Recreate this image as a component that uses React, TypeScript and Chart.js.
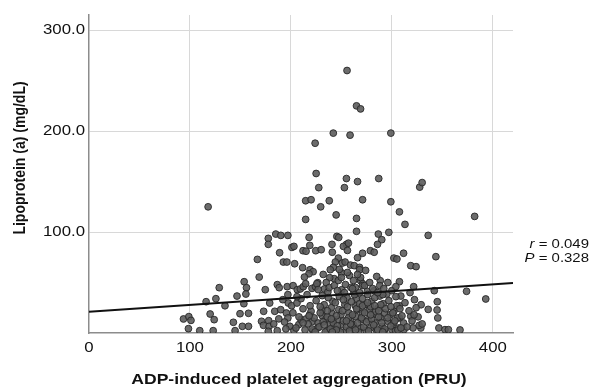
import React, { useEffect, useRef } from "react";
import { Chart, registerables } from "chart.js";

Chart.register(...registerables);

// Scatter data: [PRU, Lp(a) mg/dL]
const pruValues: number[] = [
  255.6, 265, 269, 242, 258.6, 299, 224, 225, 227.6, 255, 253, 266, 287, 327.6, 330,
  214.6, 220, 238, 271, 299, 229.5, 118, 307.5, 244.8, 313, 214.6, 265, 382, 265, 297, 286.6,
  185, 190, 197, 177.6, 177.6, 218, 245.5, 247.4, 336, 290, 285.8, 255, 252, 257, 240.7, 218.7,
  201, 203, 212, 215, 224.6, 230, 188.8, 241, 256, 271, 278.7, 282.5, 311.6, 343.6, 166.8, 266,
  247, 244, 251, 253.7, 302, 305, 192.5, 196, 203.7, 259, 262.7, 268, 268, 242, 239, 318.7, 324,
  211.6, 219, 222, 217.9, 250, 242.9, 238.4, 168.6, 153.7, 213.4, 226.6, 269, 271, 288.5, 307.5,
  156, 129, 155.4, 146.6, 125.7, 116, 134.7, 153.4, 174.6, 186.5, 188.4, 196.3, 202.2, 206.3, 209.3,
  212.3, 214.6, 220.9, 224.3, 225.7, 233.2, 236.6, 250.4, 259.3, 262.3, 270.9, 275.7, 282.5, 288,
  295, 308.9, 321.6, 342, 374, 393, 322.4, 329, 336, 345, 344.8, 345.5, 346.6, 352.6, 356, 367.5,
  328.7, 327, 321, 318.7, 307.5, 305, 302, 307.5, 311.6, 312,
  93.6, 98.9, 101, 98.5, 109.7, 120, 124, 123, 143, 144.7, 149.6, 158, 151.9, 158, 173, 179, 170.9,
  178, 172.8, 178.4, 177.6, 186.5, 184, 189.9, 195.5, 197, 193.7, 197.4, 200.7, 206, 199, 203, 207.8,
  210, 215, 218.6, 220, 221.6, 222, 226.5, 226.9, 231, 231, 234.7, 235.8, 238.8, 241.4, 240.3, 241.8,
  243.7, 247, 246.3, 247.4, 249.6, 250.7, 254.5, 253.4, 255.6, 257.5, 259.3, 260.8, 263.8, 264, 264.9,
  266.4, 269.4, 269.4, 270.9, 273, 274.6, 276.5, 277.6, 278.7, 279.9, 281.3, 283.2, 285, 286.5, 288.8,
  290.3, 291.4, 292.9, 292.5, 295.9, 298.5, 300, 301.5, 303.7, 305.6, 306.7,
  205, 208, 212, 214, 217, 219, 223, 225, 228, 229, 232, 233, 234, 236, 237, 239, 240, 242, 244, 245,
  246, 248, 249, 251, 252, 253, 255, 256, 257, 258, 260, 261, 262, 263, 265, 266, 267, 268, 270, 271,
  272, 273, 275, 276, 277, 279, 280, 282, 283, 284, 286, 287, 289, 290, 291, 293, 294, 296, 297, 299,
  301, 303, 304, 306, 308, 310, 313, 315, 317, 320, 324, 326, 330,
  210, 216, 221, 227, 231, 235, 238, 243, 247, 250, 254, 258, 262, 264, 269, 273, 278, 281, 285, 288,
  292, 296, 300, 304, 232, 248, 256, 266, 274, 286, 245, 259, 271, 240, 252, 283, 264, 279, 291, 233,
  246, 261, 197, 192, 188, 183, 195, 202, 206, 212, 218, 224, 229, 236, 241, 255, 268, 276, 287, 299,
  309, 318, 322,
];

const lpaValues: number[] = [
  260, 225, 222, 198, 196, 198, 188, 158, 144, 153, 144, 150, 153, 144.5, 149,
  131, 132, 131, 132, 130, 125, 125, 120, 117, 107.6, 112.5, 113.5, 115.5, 100.7, 99.7, 98,
  98, 96.7, 96.7, 93.7, 87.8, 94.7, 95.7, 94.7, 96.7, 92.4, 87.8, 87.8, 85.8, 89, 87.8, 86.8,
  84.8, 85.8, 81.5, 81, 81.5, 82.5, 79.5, 80, 81.8, 79, 81.5, 80, 79, 75.6, 72.9, 74.6,
  74.2, 70.3, 69.3, 70.3, 74.2, 73.3, 70.3, 70.3, 68.6, 67.3, 66.7, 65, 62.7, 65, 62.7, 66.7, 65.7,
  64.7, 62.7, 60.7, 58.7, 59.7, 53.8, 54.8, 55.4, 50.8, 55.4, 49.8, 51.8, 48.8, 51.8, 50.8,
  44.9, 44.9, 38.6, 36.6, 34, 31, 27, 29, 42.9, 47.9, 44.9, 45.9, 46.9, 42.9, 43.6,
  45.9, 48.8, 44.2, 45.9, 48.8, 43.6, 40.6, 42.9, 45.2, 40.3, 46.9, 41.3, 41.9, 36.6,
  38.6, 36.6, 45.9, 41.9, 41.3, 33.7, 33, 28, 23.4, 31, 22.8, 14.9, 5, 3.3, 3.3, 3,
  5, 7.6, 5, 16.5, 27, 27, 21.5, 14.9, 9.9, 3.3,
  13.9, 16.2, 12.5, 4.3, 2.3, 18.8, 13.2, 2.3, 10.6, 2.3, 19.1, 19.5, 6.6, 6.6, 21.5, 29.7, 11.6,
  12.2, 7.6, 6.6, 1.7, 2.3, 21.5, 23.1, 19.8, 14.9, 10.9, 29.7, 27, 29.7, 6.6, 2.3, 8.3,
  13.2, 13.9, 18.2, 21.5, 11.6, 2.3, 5, 9.9, 17.2, 23.1, 13.9, 2.3, 8.3, 31.4, 19.8, 13.2,
  5, 2.3, 13.2, 23.1, 18.2, 8.3, 2.3, 28, 34.7, 19.8, 11.6, 5, 27, 16.5, 33.7,
  23.1, 13.2, 5, 19.8, 28, 2.3, 13.2, 23.1, 5, 31.4, 18.2, 9.9, 2.3, 24.8, 14.9,
  6.6, 29, 19.8, 2.3, 11.6, 18.2, 3.3, 9.9, 2.3, 14.9, 5,
  5, 16, 24, 3, 9, 27, 15, 32, 6, 20, 11, 28, 1, 16, 35, 4, 25, 10, 30, 17,
  7, 36, 1, 22, 12, 40, 6, 26, 15, 2, 31, 18, 8, 38, 24, 10, 1, 29, 15, 34,
  6, 20, 11, 38, 2, 26, 14, 8, 35, 21, 3, 16, 28, 10, 38, 4, 24, 15, 32, 7,
  20, 12, 36, 3, 24, 17, 30, 6, 22, 12, 25, 16, 9,
  34, 38, 4, 43, 37, 50, 45, 47, 52, 55, 48, 57, 52, 45, 55, 47, 50, 44, 56, 47,
  44, 50, 42, 46, 58, 63, 60, 58, 62, 40, 3, 9, 27, 14, 33, 27, 3, 18, 1, 8,
  42, 44, 38, 33, 14, 9, 4, 20, 36, 10, 17, 1, 26, 22, 1, 12, 40, 30, 22, 26,
  5, 40, 18,
];

// Fitted regression line endpoints
const fitX: number[] = [0, 420];
const fitY: number[] = [21.0, 49.5];

const xTicks: number[] = [0, 100, 200, 300, 400];
const yTicks: number[] = [100, 200, 300];

const statLines: string[][] = [
  ["r", " = 0.049"],
  ["P", " = 0.328"],
];

const xTitle = "ADP-induced platelet aggregation (PRU)";
const yTitle = "Lipoprotein (a) (mg/dL)";

const FONT = "'Liberation Sans', Arial, Helvetica, sans-serif";
const STRETCH = 1.2;

export default function App() {
  const canvasRef = useRef<HTMLCanvasElement | null>(null);

  useEffect(() => {
    const canvas = canvasRef.current;
    if (!canvas) return;
    const points = pruValues.map((x, i) => ({ x, y: lpaValues[i] }));
    const fit = fitX.map((x, i) => ({ x, y: fitY[i] }));

    // draw text stretched horizontally around an anchor
    const stretchText = (ctx: any, text: string, x: number, y: number, align: string, sx: number) => {
      ctx.save();
      ctx.translate(x, y);
      ctx.scale(sx, 1);
      ctx.textAlign = align;
      ctx.fillText(text, 0, 0);
      ctx.restore();
    };

    const textPlugin = {
      id: "extraText",
      afterDraw(chart: any) {
        const ctx = chart.ctx;
        const area = chart.chartArea;
        const xs = chart.scales.x;
        const ys = chart.scales.y;
        ctx.save();
        ctx.fillStyle = "#111";
        // tick labels
        ctx.font = `14px ${FONT}`;
        ctx.textBaseline = "middle";
        xTicks.forEach((v) => {
          stretchText(ctx, String(v), xs.getPixelForValue(v), 348, "center", STRETCH);
        });
        yTicks.forEach((v) => {
          stretchText(ctx, v.toFixed(1), area.left - 4, ys.getPixelForValue(v), "right", STRETCH);
        });
        // x title
        ctx.font = `bold 15px ${FONT}`;
        ctx.textBaseline = "middle";
        stretchText(ctx, xTitle, (area.left + area.right) / 2 - 2, 380, "center", 1.17);
        // y title (rotated; glyph heights stretched horizontally)
        ctx.save();
        ctx.translate(21, 158);
        ctx.scale(1.15, 1);
        ctx.rotate(-Math.PI / 2);
        ctx.font = `bold 14px ${FONT}`;
        ctx.textAlign = "center";
        ctx.fillText(yTitle, 0, 0);
        ctx.restore();
        // stats
        ctx.textBaseline = "alphabetic";
        const right = 589;
        const baselines = [248, 262];
        statLines.forEach((parts, i) => {
          ctx.font = `13px ${FONT}`;
          const wRest = ctx.measureText(parts[1]).width * 1.15;
          ctx.font = `italic 13px ${FONT}`;
          const wIt = ctx.measureText(parts[0]).width * 1.15;
          const x0 = right - wRest - wIt;
          stretchText(ctx, parts[0], x0, baselines[i], "left", 1.15);
          ctx.font = `13px ${FONT}`;
          stretchText(ctx, parts[1], x0 + wIt, baselines[i], "left", 1.15);
        });
        ctx.restore();
      },
    };

    const chart = new Chart(canvas, {
      type: "scatter",
      data: {
        datasets: [
          {
            type: "line",
            data: fit,
            borderColor: "#111",
            borderWidth: 2,
            pointRadius: 0,
            fill: false,
            order: 0,
          } as any,
          {
            data: points,
            backgroundColor: "rgba(92,92,92,0.9)",
            borderColor: "rgba(40,40,40,0.9)",
            borderWidth: 1,
            pointRadius: 3.4,
            order: 1,
          },
        ],
      },
      options: {
        responsive: false,
        animation: false,
        layout: { padding: { top: 15, right: 77, left: 0, bottom: 0 } },
        plugins: {
          legend: { display: false },
          tooltip: { enabled: false },
        },
        scales: {
          x: {
            type: "linear",
            min: 0,
            max: 420,
            afterBuildTicks: (scale: any) => {
              scale.ticks = xTicks.map((v) => ({ value: v }));
            },
            afterFit: (scale: any) => {
              scale.height = 56;
            },
            ticks: { display: false },
            grid: {
              drawTicks: false,
              color: (c: any) => (c.tick && c.tick.value === 0 ? "rgba(0,0,0,0)" : "#d8d8d8"),
              lineWidth: 1,
            },
            border: { display: true, color: "#8c8c8c", width: 1.5 },
          },
          y: {
            type: "linear",
            min: 0,
            max: 315,
            afterBuildTicks: (scale: any) => {
              scale.ticks = yTicks.map((v) => ({ value: v }));
            },
            afterFit: (scale: any) => {
              scale.width = 89;
            },
            ticks: { display: false },
            grid: {
              drawTicks: false,
              color: "#d8d8d8",
              lineWidth: 1,
            },
            border: { display: true, color: "#8c8c8c", width: 1.5 },
          },
        },
      },
      plugins: [textPlugin],
    });
    return () => chart.destroy();
  }, []);

  return (
    <div style={{ position: "fixed", left: 0, top: 0, width: 590, height: 389, background: "#fff" }}>
      <canvas ref={canvasRef} width={590} height={389} />
    </div>
  );
}
